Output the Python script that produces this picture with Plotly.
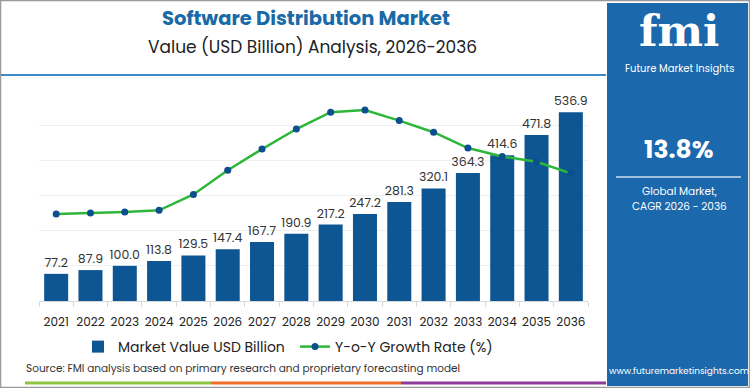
import plotly.graph_objects as go

years = [str(y) for y in range(2021, 2037)]
market_value = [77.2, 87.9, 100.0, 113.8, 129.5, 147.4, 167.7, 190.9, 217.2, 247.2,
                281.3, 320.1, 364.3, 414.6, 471.8, 536.9]
yoy_growth = [8.25, 8.34, 8.44, 8.6, 10.1, 12.4, 14.4, 16.3, 17.9, 18.1,
              17.1, 16.0, 14.5, 13.7, 13.2, 12.1]
value_labels = [f"{v:.1f}" for v in market_value]

W, H = 750, 388
L, R, T, B = 39, 162, 90, 87
PW, PH = W - L - R, H - T - B

def px(x):
    return (x - L) / PW

def py(y):
    return (H - B - y) / PH

BAR = "#0D5693"
GREEN = "#2DB73A"
PANEL = "#1B68AC"
FONT = "Poppins, Inter, sans-serif"

fig = go.Figure()
fig.add_trace(go.Bar(
    x=years, y=market_value, name="Market Value USD Billion",
    marker=dict(color=BAR, line=dict(width=0)),
    text=value_labels, textposition="outside", cliponaxis=False, constraintext="none",
    textfont=dict(size=12.5, color="#333333", family=FONT),
))
fig.add_trace(go.Scatter(
    x=years, y=yoy_growth, name="Y-o-Y Growth Rate (%)", yaxis="y2",
    mode="lines+markers", line=dict(color=GREEN, width=2.5),
    marker=dict(color="#0D4E8E", size=7),
))

shapes = [
    # outer frame
    dict(type="rect", xref="paper", yref="paper", x0=px(0.5), x1=px(749.5), y0=py(0.5), y1=py(387.5),
         line=dict(color="#9a9a9a", width=1.5), fillcolor="rgba(0,0,0,0)", layer="above"),
    # right panel
    dict(type="rect", xref="paper", yref="paper", x0=px(607), x1=px(748), y0=py(3), y1=py(386),
         line=dict(width=0), fillcolor=PANEL, layer="below"),
    # title rule
    dict(type="line", xref="paper", yref="paper", x0=px(1), x1=px(606), y0=py(75), y1=py(75),
         line=dict(color="#3B8ACB", width=2)),
    # panel rule
    dict(type="line", xref="paper", yref="paper", x0=px(616), x1=px(741), y0=py(177), y1=py(177),
         line=dict(color="#cfe0f0", width=1.5)),
    # bottom coloured strip
    dict(type="line", xref="paper", yref="paper", x0=px(25), x1=px(211), y0=py(383), y1=py(383),
         line=dict(color="#8CC63F", width=3)),
    dict(type="line", xref="paper", yref="paper", x0=px(211), x1=px(401), y0=py(383), y1=py(383),
         line=dict(color="#F26B2A", width=3)),
    dict(type="line", xref="paper", yref="paper", x0=px(401), x1=px(606), y0=py(383), y1=py(383),
         line=dict(color="#8E3A9B", width=3)),
]

def ann(text, x, y, size, color, xanchor="center", bold=False, family=FONT):
    t = f"<b>{text}</b>" if bold else text
    return dict(text=t, x=px(x), y=py(y), xref="paper", yref="paper", showarrow=False,
                xanchor=xanchor, yanchor="middle", font=dict(size=size, color=color, family=family))

annotations = [
    ann("Software Distribution Market", 306, 18, 19.5, "#1A6AA8", bold=True),
    ann("Value (USD Billion) Analysis, 2026-2036", 312, 47, 17, "#222222"),
    ann("Source: FMI analysis based on primary research and proprietary forecasting model", 24, 368, 10.5, "#333333", xanchor="left"),
    ann("fmi", 679, 31, 43, "white", bold=True, family="DejaVu Serif"),
    ann("Future Market Insights", 679, 68, 10, "white"),
    ann("13.8%", 679, 149, 25, "white", bold=True),
    ann("Global Market,", 679, 191, 10.5, "white"),
    ann("CAGR 2026 - 2036", 679, 206, 10.5, "white"),
    ann("www.futuremarketinsights.com", 679, 371, 9, "white"),
]

fig.update_layout(
    width=W, height=H,
    margin=dict(l=L, r=R, t=T, b=B, autoexpand=False),
    paper_bgcolor="white", plot_bgcolor="white",
    font=dict(family=FONT, color="#222222"),
    bargap=0.3,
    showlegend=True,
    legend=dict(orientation="h", x=px(78), y=py(347), xanchor="left", yanchor="middle",
                font=dict(size=14, color="#222222"), entrywidth=172, entrywidthmode="pixels",
                bgcolor="rgba(0,0,0,0)"),
    xaxis=dict(type="category", range=[-0.5, 15.5], showgrid=False, automargin=False,
               showline=True, linecolor="#d9d9d9", linewidth=1, tickangle=0,
               ticks="outside", tickson="boundaries", ticklen=5, tickcolor="#d9d9d9",
               ticklabelstandoff=10,
               tickfont=dict(size=12, color="#222222")),
    yaxis=dict(range=[0, 600], dtick=100, showgrid=True, gridcolor="#efefef",
               showticklabels=False, zeroline=False, showline=False),
    yaxis2=dict(range=[0, 20], overlaying="y", side="right", visible=False),
    shapes=shapes, annotations=annotations,
)

fig.write_html("out.html", config={"displayModeBar": False},
               post_script="document.body.style.margin='0';document.body.style.padding='0';")
